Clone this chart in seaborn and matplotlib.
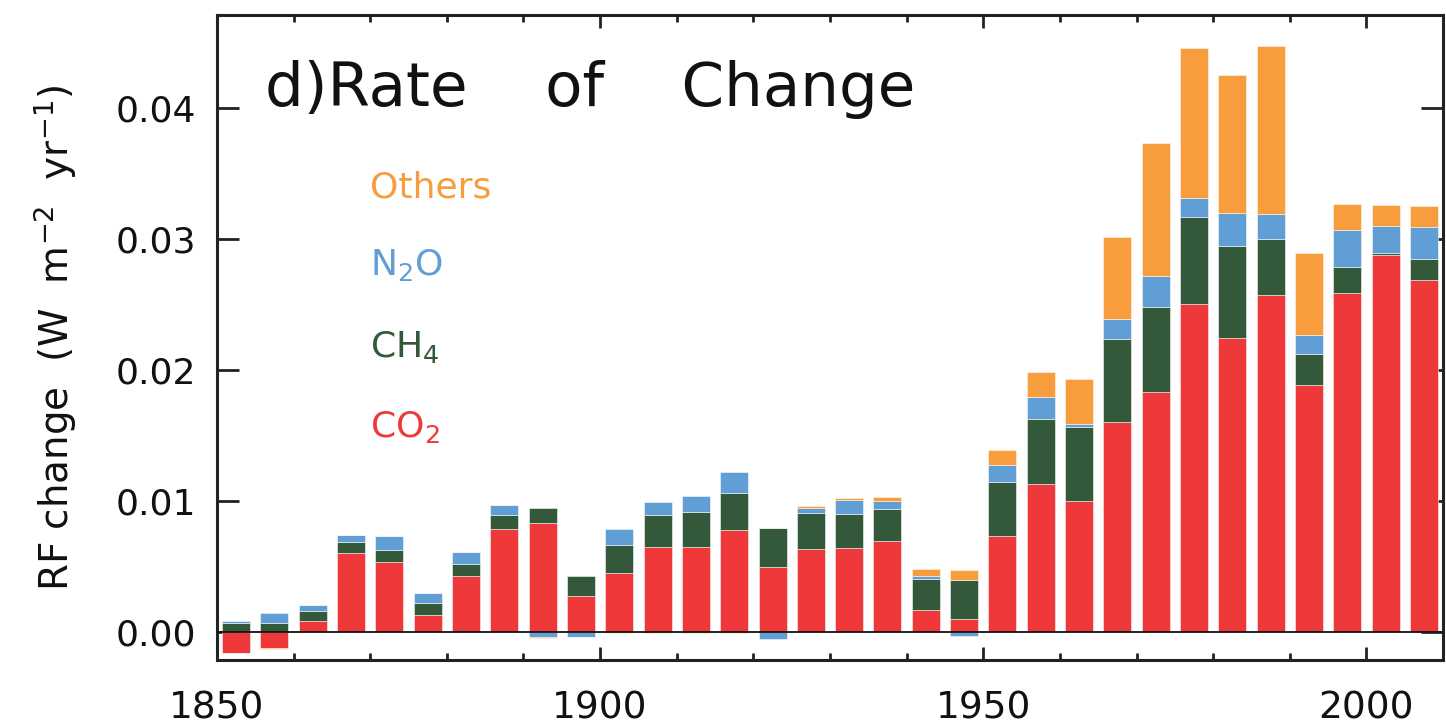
import numpy as np
import pandas as pd
import matplotlib
matplotlib.use("Agg")
import matplotlib.pyplot as plt
import seaborn as sns

# Mid-points of the 5-year periods
years = [1852.5, 1857.5, 1862.5, 1867.5, 1872.5, 1877.5, 1882.5, 1887.5,
         1892.5, 1897.5, 1902.5, 1907.5, 1912.5, 1917.5, 1922.5, 1927.5,
         1932.5, 1937.5, 1942.5, 1947.5, 1952.5, 1957.5, 1962.5, 1967.5,
         1972.5, 1977.5, 1982.5, 1987.5, 1992.5, 1997.5, 2002.5, 2007.5]

# Rate of change of radiative forcing per agent (W m-2 yr-1)
co2 = [-0.00153, -0.00122, 0.00087, 0.00606, 0.00540, 0.00137, 0.00427, 0.00789,
       0.00832, 0.00282, 0.00450, 0.00654, 0.00654, 0.00784, 0.00496, 0.00636,
       0.00641, 0.00700, 0.00168, 0.00102, 0.00738, 0.01136, 0.01004, 0.01608,
       0.01831, 0.02509, 0.02247, 0.02577, 0.01885, 0.02591, 0.02882, 0.02690]
ch4 = [0.00069, 0.00076, 0.00079, 0.00081, 0.00089, 0.00089, 0.00094, 0.00104,
       0.00120, 0.00150, 0.00214, 0.00239, 0.00262, 0.00282, 0.00298, 0.00277,
       0.00260, 0.00242, 0.00242, 0.00300, 0.00407, 0.00490, 0.00565, 0.00628,
       0.00653, 0.00660, 0.00699, 0.00422, 0.00237, 0.00195, 0.00014, 0.00160]
n2o = [0.00015, 0.00069, 0.00043, 0.00056, 0.00107, 0.00074, 0.00092, 0.00079,
       -0.00038, -0.00033, 0.00125, 0.00104, 0.00127, 0.00155, -0.00051, 0.00038,
       0.00109, 0.00061, 0.00023, -0.00025, 0.00130, 0.00170, 0.00021, 0.00156,
       0.00238, 0.00142, 0.00252, 0.00195, 0.00146, 0.00281, 0.00202, 0.00245]
others = [-0.00005, -0.00005, 0.0, 0.0, 0.0, 0.0, 0.0, 0.0,
          -0.00005, -0.00005, -0.00003, -0.00003, -0.00003, -0.00003, 0.00005, 0.00013,
          0.00015, 0.00028, 0.00053, 0.00076, 0.00120, 0.00188, 0.00344, 0.00628,
          0.01015, 0.01147, 0.01058, 0.01282, 0.00625, 0.00198, 0.00160, 0.00156]

species = ["CO$_2$", "CH$_4$", "N$_2$O", "Others"]
colors = ["#EE3839", "#33583A", "#629ED6", "#F79D3E"]
series = [co2, ch4, n2o, others]

sns.set_theme(style="white")
plt.rcParams["font.family"] = ["DejaVu Sans"]
plt.rcParams["mathtext.fontset"] = "dejavusans"

fig = plt.figure(figsize=(14.46, 7.28), dpi=100)
ax = fig.add_axes([0.150, 0.0934, 0.848, 0.886])

# Stack positives upward and negatives downward from zero
pos_base = np.zeros(len(years))
neg_base = np.zeros(len(years))
for name, vals, col in zip(species, series, colors):
    v = np.asarray(vals, dtype=float)
    bottom = np.where(v >= 0, pos_base, neg_base)
    df = pd.DataFrame({"year": years, "rate": v})
    sns.barplot(data=df, x="year", y="rate", native_scale=True, width=0.73,
                color=col, saturation=1, errorbar=None, bottom=bottom,
                edgecolor=(1, 1, 1, 0.6), linewidth=0.6, ax=ax)
    pos_base = pos_base + np.where(v >= 0, v, 0)
    neg_base = neg_base + np.where(v < 0, v, 0)

ax.axhline(0, color="#111111", lw=1.3, zorder=5)

ax.set_xlim(1850, 2010)
ax.set_ylim(-0.0021, 0.0471)
ax.set_xticks([1850, 1900, 1950, 2000])
ax.set_xticks(np.arange(1860, 2010, 10), minor=True)
ax.set_yticks([0.0, 0.01, 0.02, 0.03, 0.04])
ax.set_yticklabels(["0.00", "0.01", "0.02", "0.03", "0.04"])
ax.set_xticklabels(["1850", "1900", "1950", "2000"])

for s in ax.spines.values():
    s.set_visible(True)
    s.set_color("#222222")
    s.set_linewidth(2.2)

ax.tick_params(axis="x", which="major", direction="in", length=9.5, width=2,
               top=True, bottom=True, color="#222222", labelsize=27, pad=22,
               labelcolor="#111111")
ax.tick_params(axis="x", which="minor", direction="in", length=5, width=2,
               top=True, bottom=True, color="#222222")
ax.tick_params(axis="y", which="major", direction="in", length=16, width=2,
               left=True, right=True, color="#222222", labelsize=26, pad=15,
               labelcolor="#111111")

ax.set_xlabel("")
ax.set_ylabel("RF change  (W  m$^{-2}$  yr$^{-1}$)", fontsize=28, labelpad=26,
              color="#111111")

ax.text(0.039, 0.884, "d)Rate    of    Change", transform=ax.transAxes,
        fontsize=44, color="#111111", va="center", ha="left")

label_y = [0.361, 0.485, 0.612, 0.733]
for name, col, ly in zip(species, colors, label_y):
    ax.text(0.125, ly, name, transform=ax.transAxes, fontsize=26, color=col,
            va="center", ha="left")

fig.savefig("out.png", dpi=100)
